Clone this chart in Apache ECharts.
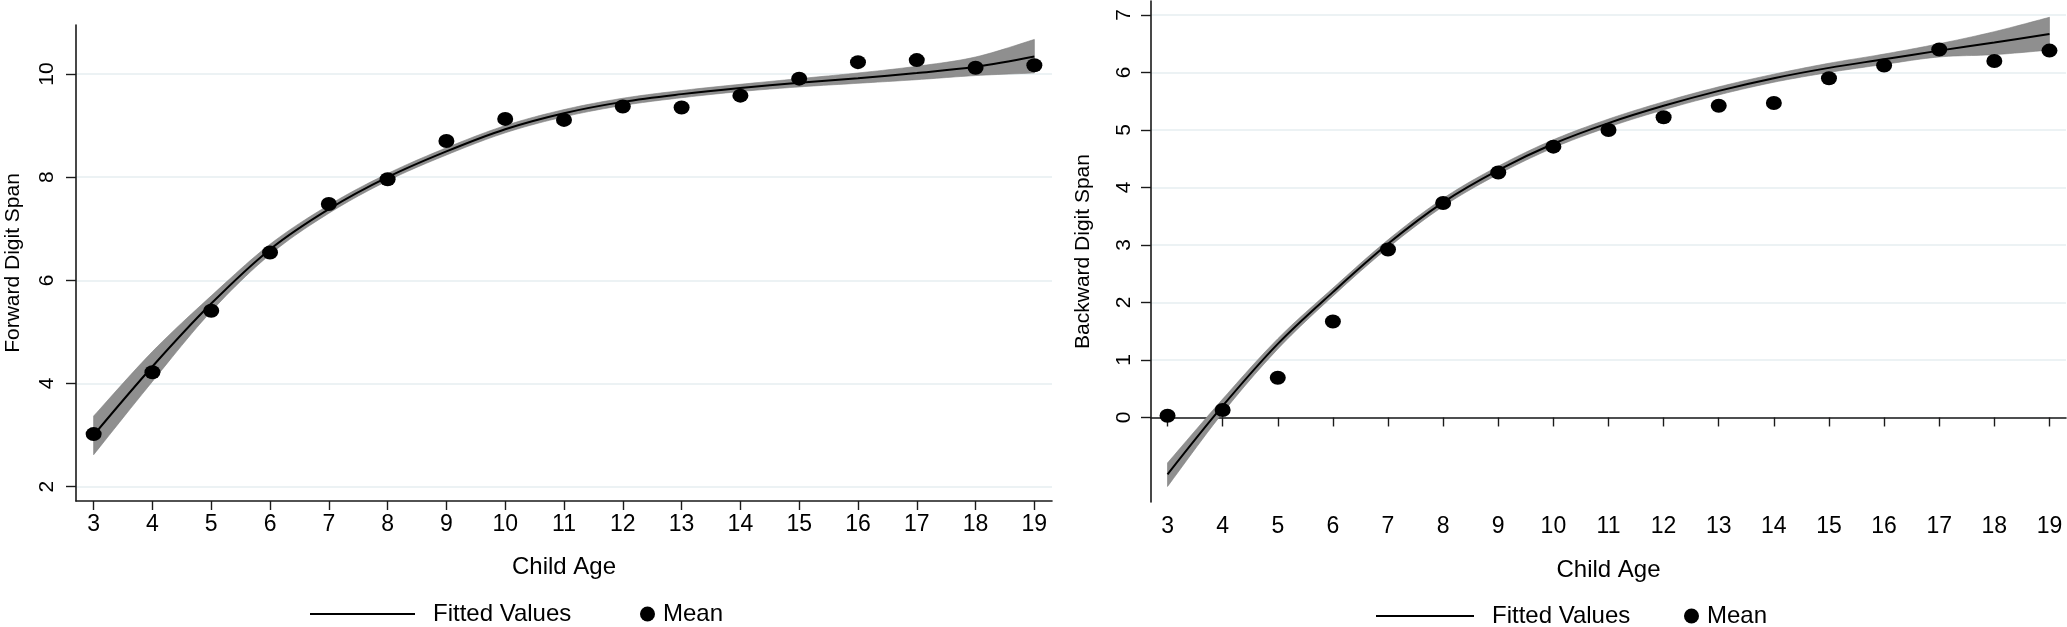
<!DOCTYPE html>
<html><head><meta charset="utf-8">
<script src="https://cdn.jsdelivr.net/npm/echarts@6/dist/echarts.min.js"></script>
<style>html,body{margin:0;padding:0;background:#fff}#c{width:2067px;height:627px}</style>
</head><body><div id="c"></div>
<script>
// ---- data ----
const ages = [3,4,5,6,7,8,9,10,11,12,13,14,15,16,17,18,19];
const xTicks = [3,4,5,6,7,8,9,10,11,12,13,14,15,16,17,18,19];

const fwdMean  = [3.02,4.22,5.41,6.54,7.48,7.96,8.70,9.13,9.11,9.37,9.35,9.58,9.91,10.23,10.27,10.12,10.17];
const fwdFit   = [3.00,4.33,5.55,6.60,7.38,8.00,8.50,8.93,9.24,9.46,9.61,9.73,9.83,9.92,10.02,10.14,10.34];
const fwdUpper = [3.37,4.62,5.70,6.70,7.46,8.07,8.57,9.00,9.31,9.53,9.68,9.80,9.91,10.02,10.15,10.33,10.67];
const fwdLower = [2.62,4.04,5.40,6.50,7.30,7.93,8.43,8.86,9.17,9.39,9.54,9.66,9.75,9.82,9.89,9.97,10.02];
const fwdYTicks = [2,4,6,8,10];

const bwdMean  = [0.03,0.13,0.69,1.67,2.92,3.73,4.26,4.71,5.00,5.22,5.42,5.47,5.90,6.12,6.40,6.20,6.38];
const bwdFit   = [-0.99,0.20,1.28,2.18,3.02,3.74,4.30,4.76,5.12,5.42,5.68,5.90,6.08,6.23,6.38,6.52,6.67];
const bwdUpper = [-0.79,0.32,1.37,2.25,3.09,3.81,4.37,4.83,5.19,5.49,5.75,5.97,6.16,6.32,6.50,6.71,6.96];
const bwdLower = [-1.20,0.08,1.19,2.11,2.95,3.67,4.23,4.69,5.05,5.35,5.61,5.83,6.00,6.14,6.27,6.31,6.39];
const bwdYTicks = [0,1,2,3,4,5,6,7];

// ---- helpers ----
const FONT = '"Liberation Sans", Arial, Helvetica, sans-serif';
function pairs(xs, ys){ return xs.map((x,i)=>[x, ys[i]]); }
function crSample(pts, n){
  const out=[];
  for(let i=0;i<pts.length-1;i++){
    const p0=pts[Math.max(i-1,0)], p1=pts[i], p2=pts[i+1], p3=pts[Math.min(i+2,pts.length-1)];
    for(let k=0;k<n;k++){
      const t=k/n, t2=t*t, t3=t2*t;
      out.push([0,1].map(j=>0.5*((2*p1[j])+(-p0[j]+p2[j])*t+(2*p0[j]-5*p1[j]+4*p2[j]-p3[j])*t2+(-p0[j]+3*p1[j]-3*p2[j]+p3[j])*t3)));
    }
  }
  out.push(pts[pts.length-1]);
  return out;
}
function bandSeries(xi, lower, upper){
  return {
    type:'custom', xAxisIndex:xi, yAxisIndex:xi, z:1, silent:true,
    data: ages.map((a,i)=>[a, lower[i], upper[i]]),
    encode:{x:0, y:[1,2]},
    renderItem:function(params, api){
      if(params.dataIndex!==0) return null;
      const up = crSample(ages.map((a,i)=>api.coord([a, upper[i]])), 12);
      const lo = crSample(ages.map((a,i)=>api.coord([a, lower[i]])), 12).reverse();
      return {type:'polygon', shape:{points: up.concat(lo)},
              style:{fill:'#8f8f8f', stroke:'#7d7d7d', lineWidth:0.6}};
    }
  };
}
function xAxisCfg(gi, nameGap, margin){
  return {
    type:'value', gridIndex:gi, min:2.7, max:19.3,
    name:'Child Age', nameLocation:'middle', nameGap:nameGap,
    nameTextStyle:{fontFamily:FONT, fontSize:24, color:'#000'},
    axisLine:{show:true, lineStyle:{color:'#1a1a1a', width:1.6}},
    axisTick:{show:true, length:9, lineStyle:{color:'#1a1a1a', width:1.4}, customValues:xTicks},
    axisLabel:{fontFamily:FONT, fontSize:23, color:'#000', margin:margin, customValues:xTicks},
    splitLine:{show:false}
  };
}
function yAxisCfg(gi, min, max, ticks, name, nameGap, margin){
  return {
    type:'value', gridIndex:gi, min:min, max:max,
    name:name, nameLocation:'middle', nameGap:nameGap,
    nameTextStyle:{fontFamily:FONT, fontSize:21, color:'#000'},
    axisLine:{show:true, lineStyle:{color:'#1a1a1a', width:1.6}},
    axisTick:{show:true, length:10, lineStyle:{color:'#1a1a1a', width:1.4}, customValues:ticks},
    axisLabel:{fontFamily:FONT, fontSize:21, color:'#000', rotate:90, margin:margin, customValues:ticks},
    splitLine:{show:true, lineStyle:{color:'#e6eef0', width:1.5}}
  };
}
function legendCfg(name, left, top, w, h, gapPad, icon){
  return {
    data:[{name:name, icon:icon, itemStyle:{color:'#000', opacity:1}}], left:left, top:top, padding:0,
    itemWidth:w, itemHeight:h, selectedMode:false,
    textStyle:{fontFamily:FONT, fontSize:24, color:'#000', padding:[0,0,0,gapPad]}
  };
}

const option = {
  backgroundColor:'#fff',
  animation:false,
  grid:[
    {left:76, top:25, width:976, height:476},
    {left:1151, top:1, width:915, height:501}
  ],
  xAxis:[ xAxisCfg(0, 54, 12), xAxisCfg(1, 56, 13) ],
  yAxis:[
    yAxisCfg(0, 1.723, 10.95, fwdYTicks, 'Forward Digit Span', 52, 18),
    yAxisCfg(1, -1.47, 7.243, bwdYTicks, 'Backward Digit Span', 57, 16)
  ],
  legend:[
    legendCfg('Fitted Values', 310, 602, 105, 2, 13, 'rect'),
    legendCfg('Mean', 640, 602, 17, 15, 2, 'circle'),
    legendCfg('Fitted Values', 1376, 604, 98, 2, 13, 'rect'),
    legendCfg('Mean', 1684, 604, 17, 15, 2, 'circle')
  ],
  series:[
    bandSeries(0, fwdLower, fwdUpper),
    {name:'Fitted Values', type:'line', xAxisIndex:0, yAxisIndex:0, z:3, data:pairs(ages, fwdFit),
     smooth:0.35, symbol:'none', lineStyle:{color:'#000', width:2}, itemStyle:{color:'#000'}},
    {name:'Mean', type:'scatter', xAxisIndex:0, yAxisIndex:0, z:4, data:pairs(ages, fwdMean),
     symbol:'circle', symbolSize:[16,14], itemStyle:{color:'#000', opacity:1}},
    bandSeries(1, bwdLower, bwdUpper),
    {name:'Fitted Values', type:'line', xAxisIndex:1, yAxisIndex:1, z:3, data:pairs(ages, bwdFit),
     smooth:0.35, symbol:'none', lineStyle:{color:'#000', width:2}, itemStyle:{color:'#000'}},
    {name:'Mean', type:'scatter', xAxisIndex:1, yAxisIndex:1, z:4, data:pairs(ages, bwdMean),
     symbol:'circle', symbolSize:[16,14], itemStyle:{color:'#000', opacity:1}}
  ]
};
const chart = echarts.init(document.getElementById('c'), null, {renderer:'canvas'});
chart.setOption(option);
</script>
</body></html>
